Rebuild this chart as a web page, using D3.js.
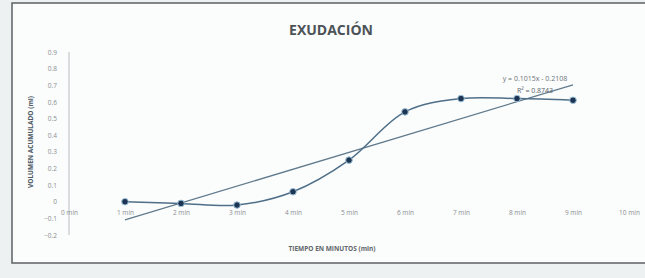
<!DOCTYPE html>
<html>
<head>
<meta charset="utf-8">
<script src="https://cdn.jsdelivr.net/npm/d3@7"></script>
<style>
  body{margin:0;background:#eef1f1;}
  svg{display:block;}
  .tick text{font-family:"Open Sans",sans-serif;fill:#8a8f92;}
</style>
</head>
<body>
<svg id="chart" width="645" height="278"></svg>
<script>
// categories on the x axis
const categories = ["0 min","1 min","2 min","3 min","4 min","5 min","6 min","7 min","8 min","9 min","10 min"]
// measured minutes and accumulated volume (ml)
const minutes = [1,2,3,4,5,6,7,8,9]
const volume  = [0.0,-0.01,-0.02,0.06,0.25,0.54,0.62,0.62,0.61]
const yTicks  = [-0.2,-0.1,0,0.1,0.2,0.3,0.4,0.5,0.6,0.7,0.8,0.9]

const svg = d3.select("#chart")

// paper background and chart frame
svg.append("rect").attr("width",645).attr("height",278).attr("fill","#eef1f1")
svg.append("rect").attr("x",12).attr("y",3).attr("width",660).attr("height",260)
    .attr("fill","#fbfcfc").attr("stroke","#5c6063").attr("stroke-width",1.5)

// scales
const xScale = d3.scaleLinear().domain([0,10]).range([69,629])
const yScale = d3.scaleLinear().domain([-0.2,0.9]).range([235,52])

// y axis
const y_axis = d3.axisLeft(yScale).tickValues(yTicks).tickSize(0).tickPadding(12)
    .tickFormat(d=> d===0 ? "0" : d3.format(".1f")(d))
svg.append("g").attr("transform",`translate(${xScale(0)},0)`)
    .call(y_axis)
    .call(g=>g.select(".domain").attr("stroke","#b9bec1").attr("d",`M0,${yScale(0.9)}V${yScale(-0.2)}`))
    .call(g=>g.selectAll("text").attr("font-size",6.5))

// x axis category labels just below the zero line
const x_axis = d3.axisBottom(xScale).tickValues(d3.range(0,11)).tickSize(0).tickPadding(9)
    .tickFormat(i=>categories[i])
svg.append("g").attr("transform",`translate(0,${yScale(0)})`)
    .call(x_axis)
    .call(g=>g.select(".domain").remove())
    .call(g=>g.selectAll("text").attr("font-size",6.5))

// linear trend line (least squares)
const mx = d3.mean(minutes), my = d3.mean(volume)
const sxy = d3.sum(minutes,(x,i)=>(x-mx)*(volume[i]-my))
const sxx = d3.sum(minutes,x=>(x-mx)*(x-mx))
const slope = sxy/sxx, icpt = my - slope*mx
const ssTot = d3.sum(volume,y=>(y-my)*(y-my))
const r2 = slope*slope*sxx/ssTot

svg.append("line")
    .attr("x1",xScale(1)).attr("y1",yScale(slope*1+icpt))
    .attr("x2",xScale(9)).attr("y2",yScale(slope*9+icpt))
    .attr("stroke","#5f7a8c").attr("stroke-width",1.3)

// smoothed data line
const pts = minutes.map((m,i)=>({x:m,y:volume[i]}))
svg.append("path").datum(pts)
    .attr("fill","none").attr("stroke","#4f6f88").attr("stroke-width",1.5)
    .attr("d",d3.line().x(d=>xScale(d.x)).y(d=>yScale(d.y)).curve(d3.curveCatmullRom.alpha(0.5)))

// markers
svg.selectAll(".marks").data(pts).join("circle")
    .attr("cx",d=>xScale(d.x)).attr("cy",d=>yScale(d.y))
    .attr("r",3.3).attr("fill","#1d3552").attr("stroke","#9fc4dc").attr("stroke-width",1)

// equation label
const fmtSign = v => (v<0 ? " - " : " + ") + Math.abs(v).toFixed(4)
svg.append("text").attr("x",535).attr("y",81).attr("text-anchor","middle")
    .attr("font-family","Open Sans, sans-serif").attr("font-size",7).attr("fill","#6b7378")
    .text(`y = ${slope.toFixed(4)}x${fmtSign(icpt)}`)
svg.append("text").attr("x",535).attr("y",93).attr("text-anchor","middle")
    .attr("font-family","Open Sans, sans-serif").attr("font-size",7).attr("fill","#5a6368")
    .text(`R² = ${r2.toFixed(4)}`)

// title
svg.append("text").attr("x",331).attr("y",35).attr("text-anchor","middle")
    .attr("font-family","Open Sans, sans-serif").attr("font-weight","bold")
    .attr("font-size",14).attr("fill","#4c5256").text("EXUDACIÓN")

// axis titles
svg.append("text").attr("x",332).attr("y",251).attr("text-anchor","middle")
    .attr("font-family","Open Sans, sans-serif").attr("font-weight","bold")
    .attr("font-size",6.5).attr("fill","#5f666a").text("TIEMPO EN MINUTOS (min)")
svg.append("text").attr("transform","translate(33,142) rotate(270)").attr("text-anchor","middle")
    .attr("font-family","Open Sans, sans-serif").attr("font-weight","bold")
    .attr("font-size",6.5).attr("fill","#4e5a66").text("VOLUMEN ACUMULADO (ml)")
</script>
</body>
</html>
